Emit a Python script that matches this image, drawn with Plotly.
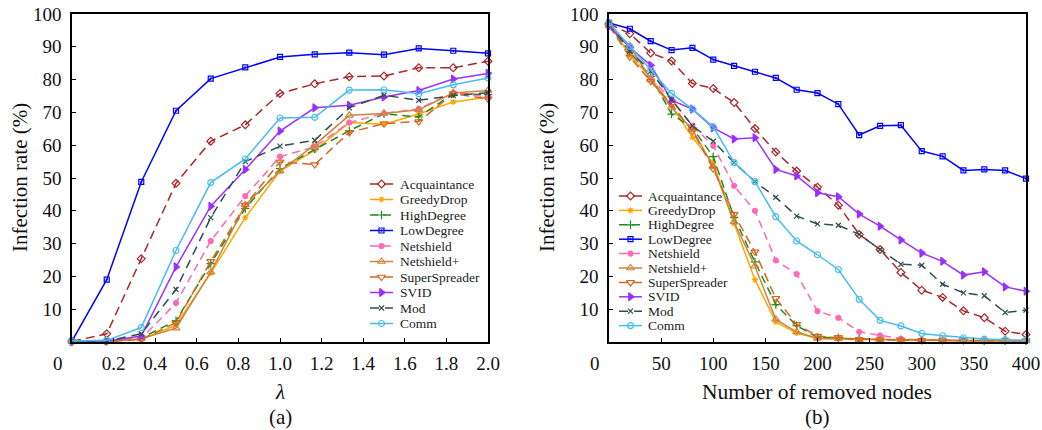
import plotly.graph_objects as go

# ---------------- data ----------------
names = ["Acquaintance", "GreedyDrop", "HighDegree", "LowDegree", "Netshield",
         "Netshield+", "SuperSpreader", "SVID", "Mod", "Comm"]

lam = [0, 0.167, 0.333, 0.5, 0.667, 0.833, 1.0, 1.167, 1.333, 1.5, 1.667, 1.833, 2.0]
a_acquaintance = [0.2, 2.5, 25.4, 48.4, 61.2, 66.2, 75.8, 78.7, 80.9, 81.1, 83.6, 83.6, 85.6]
a_greedydrop = [0.1, 0.2, 0.8, 5.1, 21.0, 37.9, 52.1, 58.5, 66.9, 66.4, 69.5, 73.2, 74.6]
a_highdegree = [0.1, 0.2, 1.2, 6.5, 23.9, 40.7, 52.9, 58.8, 64.4, 69.6, 68.6, 75.7, 75.4]
a_lowdegree = [0.3, 19.0, 48.8, 70.5, 80.3, 83.7, 86.9, 87.7, 88.2, 87.6, 89.5, 88.8, 88.0]
a_netshield = [0.1, 0.2, 1.0, 11.9, 30.8, 44.5, 56.5, 59.5, 66.9, 69.7, 71.1, 76.0, 74.7]
a_netshieldp = [0.1, 0.2, 1.0, 4.2, 21.3, 41.8, 52.1, 60.1, 69.1, 69.7, 70.8, 75.9, 76.7]
a_superspreader = [0.1, 0.2, 0.8, 5.9, 24.6, 41.7, 54.9, 54.1, 63.9, 66.6, 67.2, 75.7, 74.1]
a_svid = [0.2, 0.3, 1.8, 22.9, 41.4, 52.6, 64.3, 71.4, 72.2, 74.7, 76.7, 80.2, 81.9]
a_mod = [0.2, 0.3, 2.5, 16.0, 37.9, 55.0, 59.7, 61.5, 71.4, 75.2, 73.7, 75.1, 76.0]
a_comm = [0.3, 0.5, 4.4, 27.9, 48.6, 55.8, 68.3, 68.5, 76.8, 76.9, 75.7, 78.4, 80.5]

removed = [0, 20, 40, 60, 80, 100, 120, 140, 160, 180, 200, 220, 240, 260, 280,
           300, 320, 340, 360, 380, 400]
b_acquaintance = [97.0, 94.0, 88.1, 85.7, 78.8, 77.3, 73.0, 65.1, 57.9, 52.1, 47.2,
                  41.7, 32.8, 28.2, 21.2, 15.8, 13.6, 9.5, 7.4, 3.3, 2.3]
b_greedydrop = [97.0, 87.4, 80.6, 71.9, 62.4, 54.5, 36.1, 19.0, 6.1, 2.7, 1.1,
                1.0, 0.7, 0.6, 0.5, 0.5, 0.5, 0.4, 0.4, 0.4, 0.4]
b_highdegree = [96.8, 88.4, 81.0, 69.5, 65.3, 56.5, 38.0, 24.4, 11.4, 5.0, 1.4,
                1.3, 0.9, 0.7, 0.6, 0.5, 0.5, 0.5, 0.4, 0.4, 0.4]
b_lowdegree = [97.3, 95.5, 91.7, 89.0, 89.7, 86.1, 84.2, 82.4, 80.5, 76.9, 75.9,
               72.5, 63.1, 65.9, 66.1, 58.2, 56.6, 52.3, 52.6, 52.3, 49.8]
b_netshield = [96.3, 89.5, 80.5, 73.8, 66.0, 59.8, 47.6, 40.0, 24.9, 20.7, 9.4,
               7.4, 3.1, 2.0, 1.0, 0.6, 0.5, 0.4, 0.4, 0.3, 0.3]
b_netshieldp = [96.5, 90.3, 80.0, 71.5, 64.8, 53.5, 36.6, 23.1, 6.9, 3.1, 1.1,
                1.0, 0.7, 0.6, 0.5, 0.5, 0.5, 0.4, 0.4, 0.4, 0.4]
b_superspreader = [96.4, 86.9, 79.5, 72.5, 64.3, 52.8, 38.9, 27.5, 13.3, 5.4, 1.8,
                   1.4, 0.8, 0.7, 0.6, 0.5, 0.5, 0.5, 0.4, 0.4, 0.4]
b_svid = [96.2, 89.8, 84.4, 73.7, 71.0, 65.3, 61.9, 62.3, 52.6, 50.6, 45.5,
          44.3, 39.0, 35.3, 31.1, 27.1, 24.6, 20.4, 21.4, 16.8, 15.5]
b_mod = [97.3, 88.7, 82.6, 73.9, 65.9, 61.2, 54.7, 48.9, 44.1, 38.4, 36.0,
         35.6, 32.8, 28.2, 23.7, 23.4, 17.6, 15.0, 14.1, 9.0, 9.7]
b_comm = [97.3, 90.1, 82.7, 75.8, 71.0, 65.6, 54.7, 48.9, 38.2, 30.8, 26.6,
          22.1, 13.0, 6.6, 4.9, 2.6, 1.9, 1.3, 0.9, 0.7, 0.5]

a_series = [a_acquaintance, a_greedydrop, a_highdegree, a_lowdegree, a_netshield,
            a_netshieldp, a_superspreader, a_svid, a_mod, a_comm]
b_series = [b_acquaintance, b_greedydrop, b_highdegree, b_lowdegree, b_netshield,
            b_netshieldp, b_superspreader, b_svid, b_mod, b_comm]

x_ticks_a = [0.2, 0.4, 0.6, 0.8, 1.0, 1.2, 1.4, 1.6, 1.8, 2.0]
x_ticktext_a = ["0.2", "0.4", "0.6", "0.8", "1.0", "1.2", "1.4", "1.6", "1.8", "2.0"]
x_ticks_b = [50, 100, 150, 200, 250, 300, 350, 400]
y_ticks = [10, 20, 30, 40, 50, 60, 70, 80, 90, 100]

# ---------------- styles ----------------
styles = {
    "Acquaintance": dict(color="#A8282B", dash="9px,5px", symbol="diamond-open", size=6),
    "GreedyDrop": dict(color="#FFA500", dash="solid", symbol="asterisk-open", size=5),
    "HighDegree": dict(color="#1E8C1E", dash="8px,5px", symbol="cross-thin-open", size=6),
    "LowDegree": dict(color="#0000FF", dash="solid", symbol="square-open-dot", size=5),
    "Netshield": dict(color="#FF69B4", dash="8px,5px", symbol="circle", size=5),
    "Netshield+": dict(color="#CD853F", dash="solid", symbol="triangle-up-open", size=7),
    "SuperSpreader": dict(color="#D2691E", dash="9px,5px", symbol="triangle-down-open", size=7),
    "SVID": dict(color="#9B30FF", dash="solid", symbol="triangle-right", size=7),
    "Mod": dict(color="#2F4F4F", dash="9px,6px", symbol="x-thin-open", size=5),
    "Comm": dict(color="#45BDEE", dash="solid", symbol="circle-open", size=6),
}

FONT = "Liberation Serif, Times New Roman, serif"
W, H = 1042, 430
# layout positions in screen pixels
PLOT_TOP, PLOT_BOT = 14, 342
A_LEFT, A_RIGHT = 72, 488
B_LEFT, B_RIGHT = 609, 1026


def px_x(p):
    return p / W


def px_y(p):
    return (PLOT_BOT - p) / (PLOT_BOT - PLOT_TOP)


fig = go.Figure()


def add_series(xs, series, xa, ya):
    for name, ys in zip(names, series):
        st = styles[name]
        fig.add_trace(go.Scatter(
            x=xs, y=ys, mode="lines+markers", name=name, showlegend=False,
            xaxis=xa, yaxis=ya, cliponaxis=False,
            line=dict(color=st["color"], width=1.5, dash=st["dash"]),
            marker=dict(symbol=st["symbol"], size=st["size"], color=st["color"],
                        line=dict(color=st["color"], width=1.2)),
        ))


add_series(lam, a_series, "x", "y")
add_series(removed, b_series, "x2", "y2")


# ---------------- custom compact legends (overlay axes in screen pixels) ----------------
def add_legend(x_line0, x_line1, x_text, y0, dy):
    for i, name in enumerate(names):
        st = styles[name]
        yy = y0 + dy * i
        fig.add_trace(go.Scatter(
            x=[x_line0, x_line1], y=[yy, yy], mode="lines", showlegend=False,
            xaxis="x3", yaxis="y3", hoverinfo="skip", cliponaxis=False,
            line=dict(color=st["color"], width=1.5, dash=st["dash"])))
        fig.add_trace(go.Scatter(
            x=[(x_line0 + x_line1) / 2], y=[yy], mode="markers", showlegend=False,
            xaxis="x3", yaxis="y3", hoverinfo="skip", cliponaxis=False,
            marker=dict(symbol=st["symbol"], size=st["size"], color=st["color"],
                        line=dict(color=st["color"], width=1.2))))
        fig.add_annotation(x=px_x(x_text), y=px_y(yy), xref="paper", yref="paper",
                           text=name, showarrow=False, xanchor="left", yanchor="middle",
                           font=dict(family=FONT, size=13.5, color="#222"))


add_legend(370, 393, 398, 184, 15.5)
add_legend(619, 642, 646, 196, 14.4)

# ---------------- axes ----------------
axis_common = dict(
    showgrid=False, zeroline=False, showline=True, linecolor="black", linewidth=1.5,
    mirror=True, ticks="inside", ticklen=4, tickwidth=1.2, tickcolor="black",
    tickfont=dict(family=FONT, size=19, color="#111"),
    automargin=False, ticklabeloverflow="allow",
)

fig.update_layout(
    width=W, height=H,
    margin=dict(l=0, r=0, t=PLOT_TOP, b=H - PLOT_BOT),
    paper_bgcolor="white", plot_bgcolor="rgba(0,0,0,0)",
    showlegend=False,
    xaxis=dict(domain=[px_x(A_LEFT), px_x(A_RIGHT)], range=[0, 2.0], tickvals=x_ticks_a,
               ticktext=x_ticktext_a, anchor="y", ticklabelstandoff=3, **axis_common),
    yaxis=dict(domain=[0, 1], range=[0, 100], tickvals=y_ticks, anchor="x",
               ticklabelstandoff=5, **axis_common),
    xaxis2=dict(domain=[px_x(B_LEFT), px_x(B_RIGHT)], range=[0, 400], tickvals=x_ticks_b,
                anchor="y2", ticklabelstandoff=3, **axis_common),
    yaxis2=dict(domain=[0, 1], range=[0, 100], tickvals=y_ticks, anchor="x2",
                ticklabelstandoff=5, **axis_common),
    xaxis3=dict(domain=[0, 1], range=[0, W], visible=False, fixedrange=True,
                anchor="y3", automargin=False),
    yaxis3=dict(domain=[0, 1], range=[PLOT_BOT, PLOT_TOP], visible=False, fixedrange=True,
                anchor="x3", automargin=False),
)


# ---------------- texts ----------------
def txt(x, y, s, size=19, angle=0):
    fig.add_annotation(x=px_x(x), y=px_y(y), xref="paper", yref="paper", text=s,
                       showarrow=False, xanchor="center", yanchor="middle",
                       textangle=angle,
                       font=dict(family=FONT, size=size, color="#111"))


txt(58, 363, "0")
txt(595, 363, "0")
txt(20, 178, "Infection rate (%)", size=21, angle=-90)
txt(547, 178, "Infection rate (%)", size=21, angle=-90)
txt(280, 392, "<i>λ</i>", size=21)
txt(817, 392, "Number of removed nodes", size=21.5)
txt(280, 417, "(a)", size=21)
txt(817, 417, "(b)", size=21)

# the page body has a default 8px margin; remove it so the figure fills the window
fig.write_html("out.html", config={"displayModeBar": False},
               post_script="document.body.style.margin='0px';")
